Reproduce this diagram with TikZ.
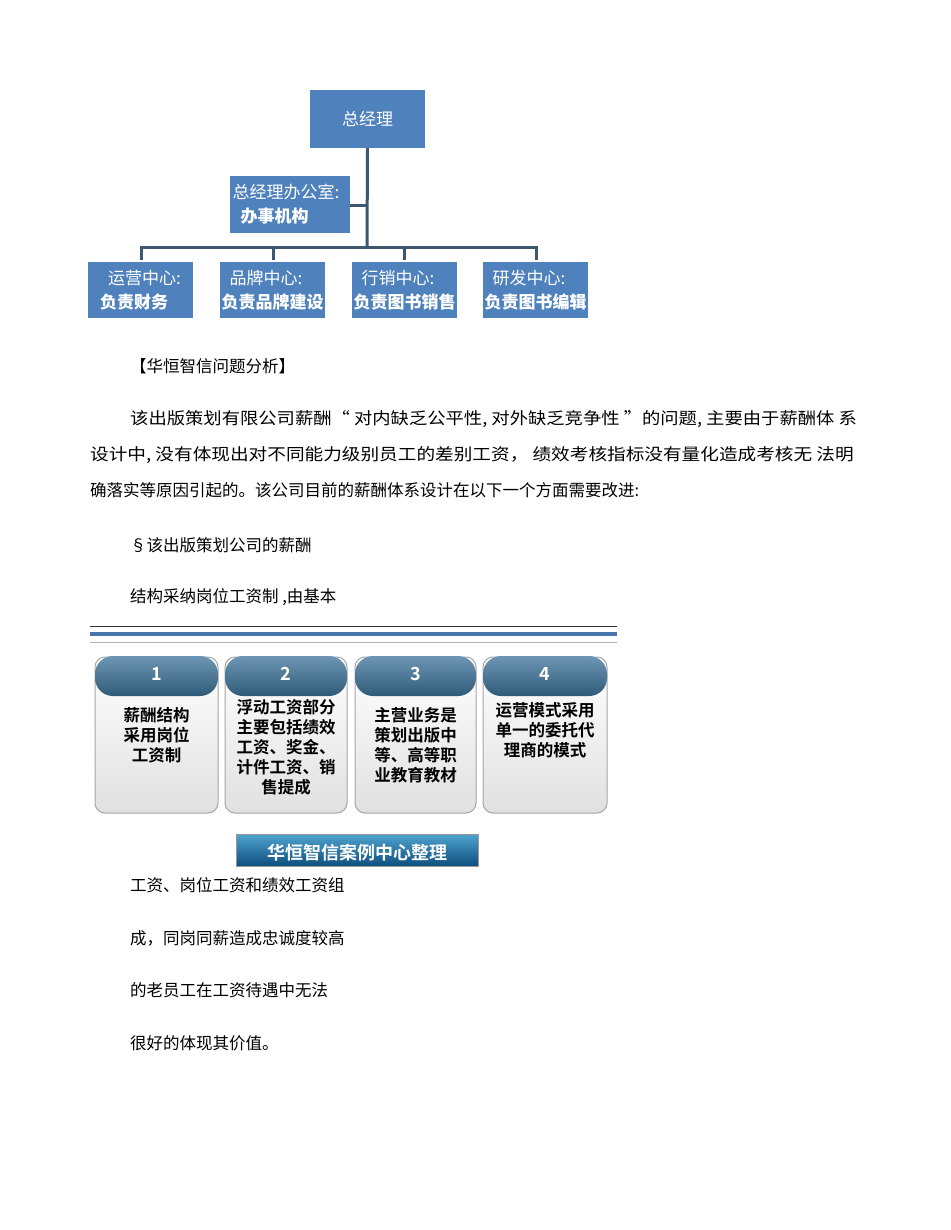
\documentclass[tikz,border=0pt]{standalone}
\usepackage{fontspec}
\usepackage{graphicx}
\setmainfont{Noto Sans CJK SC}
\newfontfamily\cjk{Noto Sans CJK SC}
\newfontfamily\cjkb{Noto Sans CJK SC Bold}
\definecolor{orgblue}{HTML}{4F81BD}
\definecolor{linec}{HTML}{3B5870}
\definecolor{tabdark}{HTML}{2E5A78}
\definecolor{tablight}{HTML}{6E96B4}
\definecolor{bantop}{HTML}{4FA3D0}
\definecolor{banbot}{HTML}{0E4F7E}
\begin{document}
\begin{tikzpicture}[x=1pt,y=-1pt,
  org/.style={fill=orgblue,draw=none,text=white,inner sep=0pt,font=\fontsize{17}{19}\selectfont},
  conn/.style={draw=linec,line width=3pt},
  body/.style={anchor=west,font=\fontsize{16.5}{18}\selectfont,inner sep=0pt},
  card/.style={rounded corners=10pt,top color=white,bottom color=black!12,draw=black!35,line width=1pt},
  cardtxt/.style={align=center,font=\cjkb\fontsize{16.5}{20}\selectfont,inner sep=0pt,anchor=north}]
\useasboundingbox (0,0) rectangle (950,1230);
\fill[white] (0,0) rectangle (950,1230);
% org chart
\node[org,minimum width=115pt,minimum height=58pt] (gm) at (367.5,119) {总经理};
\node[org,minimum width=120pt,minimum height=57pt,align=left] (off) at (290,204.5) {\hspace*{-8pt}总经理办公室:\\[5pt]\textbf{办事机构}};
\coordinate (hub) at (367,248);
\foreach \n/\x/\a/\b in {c1/140.5/运营中心:/负责财务, c2/272.5/品牌中心:/负责品牌建设, c3/404.5/行销中心:/负责图书销售, c4/535.5/研发中心:/负责图书编辑}{
  \node[org,minimum width=105pt,minimum height=56pt,align=left] (\n) at (\x,290) {\hspace*{8pt}\a\\[5pt]\textbf{\b}};
}
\draw[conn] (gm.south) -- (hub);
\draw[conn] (off.east) ++(0,1) -- (367,205.5);
\draw[conn] (141,260) |- (hub) -| (536,260);
\draw[conn] (273,248) -- (273,260);
\draw[conn] (404,248) -- (404,260);
% text
\node[body] (h1) at (130,366) {【华恒智信问题分析】};
\node[body] (p1) at (130,419) {\scalebox{1.11}[1]{该出版策划有限公司薪酬“ 对内缺乏公平性, 对外缺乏竞争性 ”的问题, 主要由于薪酬体 系}};
\node[body] (p2) at (90,455) {\scalebox{1.13}[1]{设计中, 没有体现出对不同能力级别员工的差别工资， 绩效考核指标没有量化造成考核无 法明}};
\node[body] (p3) at (90,490) {确落实等原因引起的。该公司目前的薪酬体系设计在以下一个方面需要改进:};
\node[body] (p4) at (130,545) {§该出版策划公司的薪酬};
\node[body] (p5) at (130,597) {结构采纳岗位工资制 ,由基本};
% rules
\draw[black!80,line width=1.2pt] (90,626.5) -- (617,626.5);
\draw[orgblue!90!black,line width=3.5pt] (90,634) -- (617,634);
\draw[black!30,line width=0.8pt] (90,642) -- (617,642);
% cards
\foreach \i/\xa/\xb in {1/95/218,2/225/347,3/355/476,4/483/607}{
  \draw[card] (\xa,657) rectangle (\xb,813);
  \shade[top color=tablight,bottom color=tabdark,rounded corners=18pt] (\xa,696) -- (\xa,656) -- (\xb,656) -- (\xb,696) -- cycle;
  \node[text=white,font=\cjkb\fontsize{18}{18}\selectfont] (n\i) at ({(\xa+\xb)/2},674) {\i};
}
\node[cardtxt] (t1) at (156.5,707) {薪酬结构\\采用岗位\\工资制};
\node[cardtxt] (t2) at (286,699) {浮动工资部分\\主要包括绩效\\工资、奖金、\\计件工资、销\\售提成};
\node[cardtxt] (t3) at (415.5,707) {主营业务是\\策划出版中\\等、高等职\\业教育教材};
\node[cardtxt] (t4) at (545,702) {运营模式采用\\单一的委托代\\理商的模式};
\shade[top color=bantop,bottom color=banbot,draw=black!40] (236,834) rectangle (478,866);
\node[text=white,font=\cjkb\fontsize{18}{18}\selectfont] (ban) at (357,853) {华恒智信案例中心整理};
\node[body] (q1) at (130,885) {工资、岗位工资和绩效工资组};
\node[body] (q2) at (130,938) {成，同岗同薪造成忠诚度较高};
\node[body] (q3) at (130,990) {的老员工在工资待遇中无法};
\node[body] (q4) at (130,1043) {很好的体现其价值。};
\end{tikzpicture}
\end{document}
